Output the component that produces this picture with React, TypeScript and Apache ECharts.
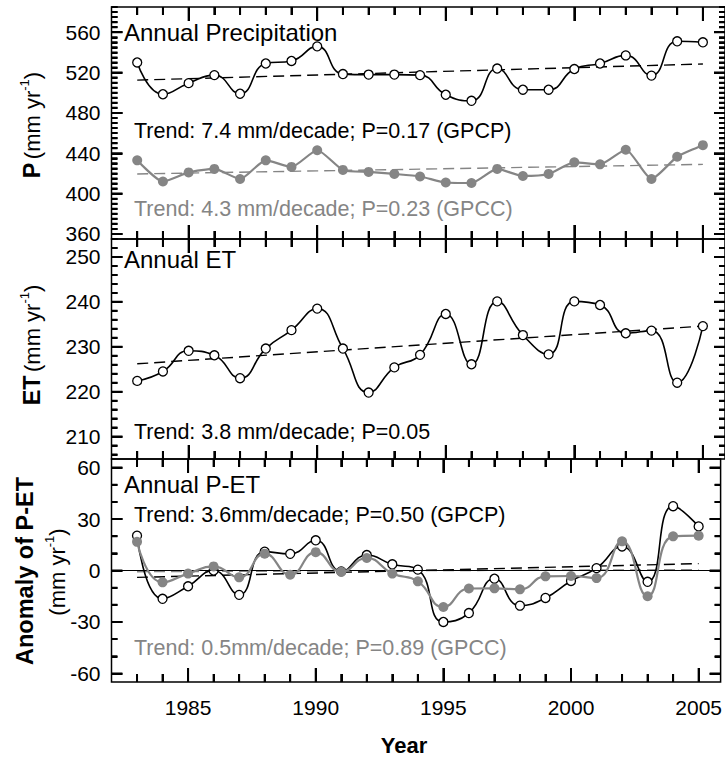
import React, { useEffect, useRef } from "react";
import * as echarts from "echarts";

// ---------- data ----------
const years = [1983, 1984, 1985, 1986, 1987, 1988, 1989, 1990, 1991, 1992, 1993, 1994, 1995, 1996, 1997, 1998, 1999, 2000, 2001, 2002, 2003, 2004, 2005];

const precipGPCP = [530, 498.5, 509.5, 517.5, 499, 529, 531.5, 546, 518.5, 518, 518, 517.5, 498, 492, 524, 503, 503, 523.5, 529, 537, 517, 551, 550];
const precipGPCC = [433, 412, 421, 424.5, 414.5, 433, 426.5, 443, 423.5, 421.5, 419.5, 417, 411, 410.5, 424.5, 417.5, 419.5, 431, 429, 443.5, 414.5, 436.5, 448];
const annualET = [222.4, 224.5, 229.1, 228.1, 223.0, 229.6, 233.7, 238.5, 229.6, 219.8, 225.4, 228.2, 237.3, 226.1, 240.1, 232.6, 228.3, 240.1, 239.3, 233.0, 233.6, 222.0, 234.6];
const anomalyGPCP = [20.3, -16.5, -9.2, 0, -14.2, 11, 9.7, 17.6, -0.5, 9, 3.6, 0.5, -30, -24.8, -4.8, -20.5, -16, -6.1, 1.4, 14, -6.6, 37.5, 25.7];
const anomalyGPCC = [16.7, -6.9, -1.8, 2.4, -4, 9.8, -2.5, 10.7, -0.8, 7.3, -1.8, -6.3, -21.3, -10.5, -10.4, -11, -3.4, -3.2, -4.4, 17, -15, 19.9, 20.3];

const trendPrecipGPCP = [[1983, 512.5], [2005, 528.5]];
const trendPrecipGPCC = [[1983, 419.5], [2005, 429]];
const trendET = [[1983, 226.2], [2005, 234.6]];
const trendAnomalyGPCP = [[1983, -4], [2005, 4]];
const trendAnomalyGPCC = [[1983, -0.7], [2005, 0.5]];

// ---------- tick labels ----------
const yearTicks = [1985, 1990, 1995, 2000, 2005];
const precipTicks = [360, 400, 440, 480, 520, 560];
const etTicks = [210, 220, 230, 240, 250];
const anomalyTicks = [-60, -30, 0, 30, 60];

const range = (a: number, b: number, s: number) => {
  const r: number[] = [];
  for (let v = a; v <= b + 1e-9; v += s) r.push(Math.round(v * 1000) / 1000);
  return r;
};

const FONT = "'Liberation Sans', Arial, Helvetica, sans-serif";
const GRAY = "#858585";
const X_MIN = 1982;
const X_MAX = 2005.86;
const GRID_LEFT = 111.5;
const GRID_RIGHT = 0;
const CHART_W = 725;
const GRID_W = CHART_W - GRID_LEFT - GRID_RIGHT;

const X_MINOR_LEN = 8;
const X_MAJOR_LEN = 14;
const Y_MINOR_LEN = 6;
const Y_MAJOR_LEN = 11;
const TICK_W = 2;

const panels = [
  { top: 7, height: 232, min: 355, max: 585, major: precipTicks, minor: range(360, 585, 5) },
  { top: 239, height: 220, min: 205, max: 254, major: etTicks, minor: range(206, 254, 2) },
  { top: 459, height: 223, min: -65, max: 65, major: anomalyTicks, minor: range(-60, 60, 10) },
];

const pairs = (ys: number[]) => years.map((y, i) => [y, ys[i]]);

function buildOption() {
  const grid: any[] = [];
  const xAxis: any[] = [];
  const yAxis: any[] = [];
  const series: any[] = [];

  const tickAxis = (g: number, pos: string, min: number, max: number, values: number[], len: number) => ({
    type: "value", gridIndex: g, position: pos, min, max,
    axisLine: { show: false, onZero: false },
    axisTick: { show: true, inside: true, length: len, customValues: values, lineStyle: { color: "#000", width: TICK_W } },
    axisLabel: { show: false },
    splitLine: { show: false },
  });

  panels.forEach((p, g) => {
    grid.push({
      left: GRID_LEFT, right: GRID_RIGHT, top: p.top, height: p.height,
      show: true, borderColor: "#000", borderWidth: 1.5,
    });
    xAxis.push({
      type: "value", gridIndex: g, position: "bottom", min: X_MIN, max: X_MAX,
      axisLine: { show: false, onZero: false },
      axisTick: { show: false },
      axisLabel: g === 2
        ? { show: true, customValues: yearTicks, formatter: (v: number) => String(v), fontSize: 21, color: "#000", fontFamily: FONT, margin: 15 }
        : { show: false },
      splitLine: { show: false },
    });
    xAxis.push(tickAxis(g, "bottom", X_MIN, X_MAX, years, X_MINOR_LEN));
    xAxis.push(tickAxis(g, "bottom", X_MIN, X_MAX, yearTicks, X_MAJOR_LEN));
    xAxis.push(tickAxis(g, "top", X_MIN, X_MAX, years, X_MINOR_LEN));
    xAxis.push(tickAxis(g, "top", X_MIN, X_MAX, yearTicks, X_MAJOR_LEN));

    yAxis.push({
      type: "value", gridIndex: g, position: "left", min: p.min, max: p.max,
      axisLine: { show: false, onZero: false },
      axisTick: { show: false },
      axisLabel: { show: true, customValues: p.major, formatter: (v: number) => String(v), fontSize: 21, color: "#000", fontFamily: FONT, margin: 11 },
      splitLine: { show: false },
    });
    yAxis.push(tickAxis(g, "left", p.min, p.max, p.minor, Y_MINOR_LEN));
    yAxis.push(tickAxis(g, "left", p.min, p.max, p.major, Y_MAJOR_LEN));
    yAxis.push(tickAxis(g, "right", p.min, p.max, p.minor, Y_MINOR_LEN));
    yAxis.push(tickAxis(g, "right", p.min, p.max, p.major, Y_MAJOR_LEN));

    const dx = (X_MAX - X_MIN) / GRID_W;
    const dy = (p.max - p.min) / p.height;
    const tickData: any[] = [];
    const addX = (v: number, len: number) => {
      tickData.push([v, p.min], [v, p.min + len * dy], ["-", "-"]);
      tickData.push([v, p.max], [v, p.max - len * dy], ["-", "-"]);
    };
    const addY = (v: number, len: number) => {
      tickData.push([X_MIN, v], [X_MIN + len * dx, v], ["-", "-"]);
      tickData.push([X_MAX, v], [X_MAX - len * dx, v], ["-", "-"]);
    };
    years.forEach((v) => addX(v, X_MINOR_LEN));
    yearTicks.forEach((v) => addX(v, X_MAJOR_LEN));
    p.minor.forEach((v) => addY(v, Y_MINOR_LEN));
    p.major.forEach((v) => addY(v, Y_MAJOR_LEN));
    series.push({
      type: "line", xAxisIndex: 5 * g, yAxisIndex: 5 * g, data: tickData, symbol: "none",
      lineStyle: { color: "#000", width: TICK_W },
    });
  });

  const openLine = (g: number, ys: number[], smooth: number) => ({
    type: "line", xAxisIndex: 5 * g, yAxisIndex: 5 * g, data: pairs(ys), smooth,
    symbol: "circle", symbolSize: 9, showSymbol: true, z: 4,
    lineStyle: { color: "#000", width: 1.6 },
    itemStyle: { color: "#fff", borderColor: "#000", borderWidth: 1.3 },
  });
  const grayLine = (g: number, ys: number[], smooth: number) => ({
    type: "line", xAxisIndex: 5 * g, yAxisIndex: 5 * g, data: pairs(ys), smooth,
    symbol: "circle", symbolSize: 10, showSymbol: true, z: 5,
    lineStyle: { color: GRAY, width: 2.2 },
    itemStyle: { color: GRAY, borderWidth: 0 },
  });
  const trend = (g: number, d: number[][], color: string, width: number) => ({
    type: "line", xAxisIndex: 5 * g, yAxisIndex: 5 * g, data: d, symbol: "none", z: 3,
    lineStyle: { color, width, type: [11, 6] },
  });

  series.push(
    trend(0, trendPrecipGPCP, "#000", 1.4),
    trend(0, trendPrecipGPCC, GRAY, 1.4),
    openLine(0, precipGPCP, 0.5),
    grayLine(0, precipGPCC, 0.2),
    trend(1, trendET, "#000", 1.4),
    openLine(1, annualET, 0.5),
    {
      type: "line", xAxisIndex: 10, yAxisIndex: 10, data: [], symbol: "none",
      markLine: {
        silent: true, symbol: ["none", "none"], label: { show: false },
        lineStyle: { color: "#000", width: 1, type: "solid" },
        data: [{ yAxis: 0 }],
      },
    },
    trend(2, trendAnomalyGPCC, GRAY, 1.4),
    trend(2, trendAnomalyGPCP, "#000", 1.4),
    openLine(2, anomalyGPCP, 0.5),
    grayLine(2, anomalyGPCC, 0.5),
  );

  const txt = (text: string, x: number, y: number, size: number, color = "#000", extra: any = {}) => ({
    type: "text", x, y, z: 50, silent: true,
    style: { text, fill: color, fontSize: size, fontFamily: FONT, align: "left", verticalAlign: "middle", ...extra },
  });

  const rich = {
    b: { fontWeight: "bold", fontSize: 23.5, fontFamily: FONT, fill: "#000", lineHeight: 28 },
    n: { fontSize: 22, fontFamily: FONT, fill: "#000", lineHeight: 28 },
    s: { fontSize: 13, fontFamily: FONT, fill: "#000", verticalAlign: "top", lineHeight: 13 },
  };
  const vtitle = (text: string, x: number, y: number) => ({
    type: "text", x, y, rotation: Math.PI / 2, z: 50, silent: true,
    style: { text, rich, align: "center", verticalAlign: "middle", fontFamily: FONT },
  });

  const graphic = [
    txt("Annual Precipitation", 124, 32, 24),
    txt("Trend: 7.4 mm/decade; P=0.17 (GPCP)", 134, 131, 21.5),
    txt("Trend: 4.3 mm/decade; P=0.23 (GPCC)", 134, 209, 21.5, GRAY),
    txt("Annual ET", 124, 259, 24),
    txt("Trend: 3.8 mm/decade; P=0.05", 134, 432, 21.5),
    txt("Annual P-ET", 124, 484, 24),
    txt("Trend: 3.6mm/decade; P=0.50 (GPCP)", 134, 515, 21.5),
    txt("Trend: 0.5mm/decade; P=0.89 (GPCC)", 134, 648, 21.5, GRAY),
    vtitle("{b|P} {n|(mm yr}{s|-1}{n|)}", 32, 125),
    vtitle("{b|ET} {n|(mm yr}{s|-1}{n|)}", 32, 345),
    vtitle("{b|Anomaly of P-ET}", 25, 571),
    vtitle("{n|(mm yr}{s|-1}{n|)}", 57, 572),
    txt("Year", 404, 745, 22, "#000", { fontWeight: "bold", align: "center" }),
  ];

  return { animation: false, grid, xAxis, yAxis, series, graphic };
}

export default function App() {
  const ref = useRef<HTMLDivElement>(null);
  useEffect(() => {
    if (!ref.current) return;
    const chart = echarts.init(ref.current, undefined, { renderer: "svg" });
    chart.setOption(buildOption() as any);
    return () => chart.dispose();
  }, []);
  return (
    <div
      ref={ref}
      style={{ position: "fixed", left: 0, top: 0, width: 725, height: 757, background: "#fff" }}
    />
  );
}
